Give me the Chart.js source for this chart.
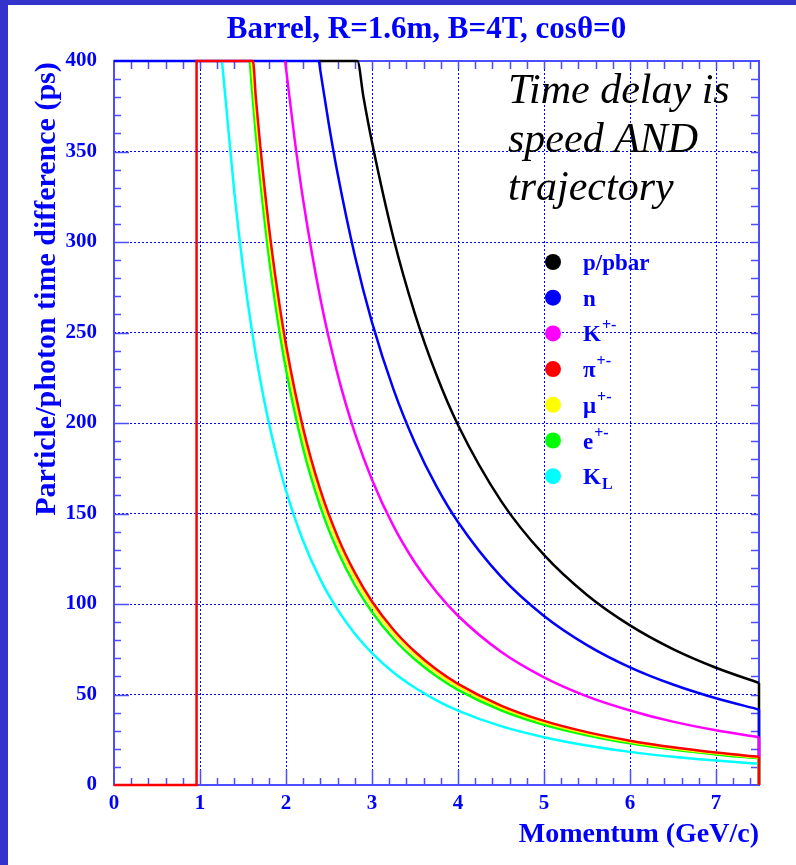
<!DOCTYPE html>
<html>
<head>
<meta charset="utf-8">
<script src="https://cdn.jsdelivr.net/npm/chart.js@4.4.1/dist/chart.umd.min.js"></script>
<style>
  html, body { margin: 0; padding: 0; background: #3333cc; width: 796px; height: 865px; overflow: hidden; }
  #panel { position: absolute; left: 8px; top: 5px; width: 788px; height: 860px; background: #fff; }
  canvas { display: block; }
</style>
</head>
<body>
<div id="panel"><canvas id="chart" width="788" height="860"></canvas></div>
<script>
// momentum (GeV/c) and time difference (ps)
// the last pair of each list is the drop to zero at the right edge
const protonP = [2.38, 2.83, 2.9, 3.0, 3.25, 3.5, 3.75, 4.0, 4.5, 5.0, 5.5, 6.0, 6.5, 7.0, 7.5, 7.5];
const protonT = [400, 400, 380.2, 355.1, 302.1, 260.2, 226.5, 198.9, 157.0, 127.1, 105.0, 88.2, 75.1, 64.8, 56.4, 0];

const neutronP = [0, 2.38, 2.4, 2.5, 2.6, 2.8, 3.0, 3.25, 3.5, 3.75, 4.0, 4.5, 5.0, 5.5, 6.0, 6.5, 7.0, 7.5, 7.5];
const neutronT = [400, 400, 394.4, 364.5, 337.8, 292.5, 255.6, 218.6, 189.0, 165.0, 145.3, 115.1, 93.4, 77.3, 65.0, 55.5, 47.9, 41.7, 0];

const kaonP = [1.99, 2.1, 2.2, 2.4, 2.6, 2.8, 3.0, 3.25, 3.5, 3.75, 4.0, 4.5, 5.0, 5.5, 6.0, 6.5, 7.0, 7.5, 7.5];
const kaonT = [400, 357.0, 323.1, 268.6, 227.0, 194.5, 168.6, 143.0, 122.8, 106.6, 93.5, 73.6, 59.5, 49.0, 41.2, 35.0, 30.2, 26.3, 0];

const pionP = [0, 0.96, 0.96, 1.615, 1.65, 1.7, 1.8, 1.9, 2.0, 2.2, 2.4, 2.6, 2.8, 3.0, 3.25, 3.5, 3.75, 4.0, 4.5, 5.0, 5.5, 6.0, 6.5, 7.0, 7.5, 7.5];
const pionT = [0, 0, 400, 400, 379.4, 353.4, 309.1, 273.1, 243.2, 196.9, 162.9, 137.2, 117.3, 101.4, 85.8, 73.6, 63.8, 55.9, 43.9, 35.4, 29.2, 24.5, 20.8, 17.9, 15.6, 0];

const muonP = [1.6, 1.65, 1.7, 1.8, 1.9, 2.0, 2.2, 2.4, 2.6, 2.8, 3.0, 3.25, 3.5, 3.75, 4.0, 4.5, 5.0, 5.5, 6.0, 6.5, 7.0, 7.5, 7.5];
const muonT = [400, 370.7, 345.2, 301.9, 266.6, 237.4, 192.1, 159.0, 133.9, 114.4, 98.9, 83.7, 71.8, 62.2, 54.5, 42.8, 34.5, 28.5, 23.9, 20.3, 17.5, 15.2, 0];

const electronP = [1.58, 1.6, 1.65, 1.7, 1.8, 1.9, 2.0, 2.2, 2.4, 2.6, 2.8, 3.0, 3.25, 3.5, 3.75, 4.0, 4.5, 5.0, 5.5, 6.0, 6.5, 7.0, 7.5, 7.5];
const electronT = [400, 386.9, 359.1, 334.3, 292.2, 258.0, 229.6, 185.8, 153.7, 129.4, 110.5, 95.6, 80.8, 69.3, 60.1, 52.6, 41.3, 33.3, 27.5, 23.0, 19.6, 16.9, 14.7, 0];

const kLongP = [1.255, 1.3, 1.4, 1.5, 1.6, 1.7, 1.8, 1.9, 2.0, 2.2, 2.4, 2.6, 2.8, 3.0, 3.25, 3.5, 3.75, 4.0, 4.5, 5.0, 5.5, 6.0, 6.5, 7.0, 7.5, 7.5];
const kLongT = [400, 377.6, 327.1, 286.0, 252.2, 223.9, 200.2, 180.0, 162.7, 134.8, 113.5, 96.9, 83.6, 72.9, 62.2, 53.7, 46.8, 41.1, 32.5, 26.4, 21.8, 18.3, 15.6, 13.5, 11.7, 0];

// legend entries: base text, superscript, subscript
const legendNames = ['p/pbar', 'n', 'K', 'π', 'μ', 'e', 'K'];
const legendSup = ['', '', '+-', '+-', '+-', '+-', ''];
const legendSub = ['', '', '', '', '', '', 'L'];
const legendColors = ['#000000', '#0000ff', '#ff00ff', '#ff0000', '#ffff00', '#00ff00', '#00ffff'];

const noteLines = ['Time delay is', 'speed AND', 'trajectory'];

const blueText = '#0000ff';
const frameBlue = '#4d4dff';
const serif = '"Liberation Serif", "Times New Roman", serif';

function toPoints(xs, ys) {
  return xs.map((v, i) => ({ x: v, y: ys[i] }));
}

// curve part (smooth) + last edge drop (straight) as two datasets
function series(label, xs, ys, color, order) {
  const pts = toPoints(xs, ys);
  const base = {
    borderColor: color,
    backgroundColor: color,
    borderWidth: 2.5,
    pointRadius: 0,
    fill: false,
    clip: 3,
    order
  };
  return [
    { ...base, label, data: pts.slice(0, -1), cubicInterpolationMode: 'monotone' },
    { ...base, label: label + ' edge', data: pts.slice(-2), tension: 0 }
  ];
}

// frame box and inward ticks like a ROOT canvas
const frameTicks = {
  id: 'frameTicks',
  beforeDatasetsDraw(chart) {
    const { ctx, chartArea: a, scales: { x, y } } = chart;
    ctx.save();
    ctx.strokeStyle = frameBlue;
    ctx.lineWidth = 1.5;
    ctx.beginPath();
    for (let i = 1; i < 38; i++) {
      const px = Math.round(x.getPixelForValue(i / 5)) + 0.5;
      const len = i % 5 === 0 ? 15 : 7;
      ctx.moveTo(px, a.bottom); ctx.lineTo(px, a.bottom - len);
      ctx.moveTo(px, a.top); ctx.lineTo(px, a.top + 8);
    }
    for (let i = 1; i < 40; i++) {
      const py = Math.round(y.getPixelForValue(i * 10)) + 0.5;
      const len = i % 5 === 0 ? 15 : 7;
      ctx.moveTo(a.left, py); ctx.lineTo(a.left + len, py);
      ctx.moveTo(a.right, py); ctx.lineTo(a.right - 8, py);
    }
    ctx.stroke();
    ctx.lineWidth = 2;
    ctx.strokeRect(a.left, a.top, a.right - a.left, a.bottom - a.top);
    ctx.restore();
  }
};

// title, axis titles, legend and note text
const textLayer = {
  id: 'textLayer',
  afterDatasetsDraw(chart) {
    const { ctx, chartArea: a } = chart;
    ctx.save();
    ctx.fillStyle = blueText;
    ctx.textBaseline = 'alphabetic';

    ctx.font = 'bold 31px ' + serif;
    ctx.textAlign = 'center';
    ctx.fillText('Barrel, R=1.6m, B=4T, cosθ=0', 418.5, 33);

    ctx.font = 'bold 28px ' + serif;
    ctx.textAlign = 'right';
    ctx.fillText('Momentum (GeV/c)', a.right, 837);

    ctx.save();
    ctx.translate(47, 284);
    ctx.rotate(-Math.PI / 2);
    ctx.font = 'bold 30px ' + serif;
    ctx.textAlign = 'center';
    ctx.fillText('Particle/photon time difference (ps)', 0, 0);
    ctx.restore();

    // legend
    ctx.textAlign = 'left';
    legendNames.forEach((name, i) => {
      const cy = 257 + i * 35.7;
      ctx.fillStyle = legendColors[i];
      ctx.beginPath();
      ctx.arc(545, cy, 8, 0, Math.PI * 2);
      ctx.fill();
      ctx.fillStyle = blueText;
      ctx.font = 'bold 23px ' + serif;
      ctx.fillText(name, 575, cy + 8);
      const w = ctx.measureText(name).width;
      if (legendSup[i]) {
        ctx.font = 'bold 16px ' + serif;
        ctx.fillText(legendSup[i], 575 + w + 1, cy - 3);
      }
      if (legendSub[i]) {
        ctx.font = 'bold 16px ' + serif;
        ctx.fillText(legendSub[i], 575 + w + 1, cy + 13);
      }
    });

    // note
    ctx.fillStyle = '#000000';
    ctx.font = 'italic 42px ' + serif;
    noteLines.forEach((line, i) => {
      ctx.fillText(line, 500, 98 + i * 48.5);
    });
    ctx.restore();
  }
};

const datasets = [
  ...series('p/pbar', protonP, protonT, '#000000', 6),
  ...series('n', neutronP, neutronT, '#0000ff', 5),
  ...series('K+-', kaonP, kaonT, '#ff00ff', 4),
  ...series('π+-', pionP, pionT, '#ff0000', 0),
  ...series('μ+-', muonP, muonT, '#ffff00', 1),
  ...series('e+-', electronP, electronT, '#00ff00', 2),
  ...series('K_L', kLongP, kLongT, '#00ffff', 3)
];

const tickFont = { family: serif, size: 21, weight: 'bold' };

new Chart(document.getElementById('chart'), {
  type: 'line',
  data: { datasets },
  options: {
    responsive: false,
    animation: false,
    devicePixelRatio: 1,
    layout: { padding: { top: 56, right: 37, left: 0, bottom: 0 } },
    plugins: {
      legend: { display: false },
      tooltip: { enabled: false },
      title: { display: false }
    },
    scales: {
      x: {
        type: 'linear',
        min: 0,
        max: 7.5,
        afterFit: s => { s.height = 80; },
        grid: { color: '#0000ff', lineWidth: 1, drawTicks: false },
        border: { display: false, dash: [2, 2] },
        ticks: { stepSize: 1, includeBounds: false, color: blueText, font: tickFont, padding: 6, maxRotation: 0 }
      },
      y: {
        type: 'linear',
        min: 0,
        max: 400,
        afterFit: s => { s.width = 106; },
        grid: { color: '#0000ff', lineWidth: 1, drawTicks: false },
        border: { display: false, dash: [2, 2] },
        ticks: { stepSize: 50, color: blueText, font: tickFont, padding: 17 }
      }
    }
  },
  plugins: [frameTicks, textLayer]
});
</script>
</body>
</html>
